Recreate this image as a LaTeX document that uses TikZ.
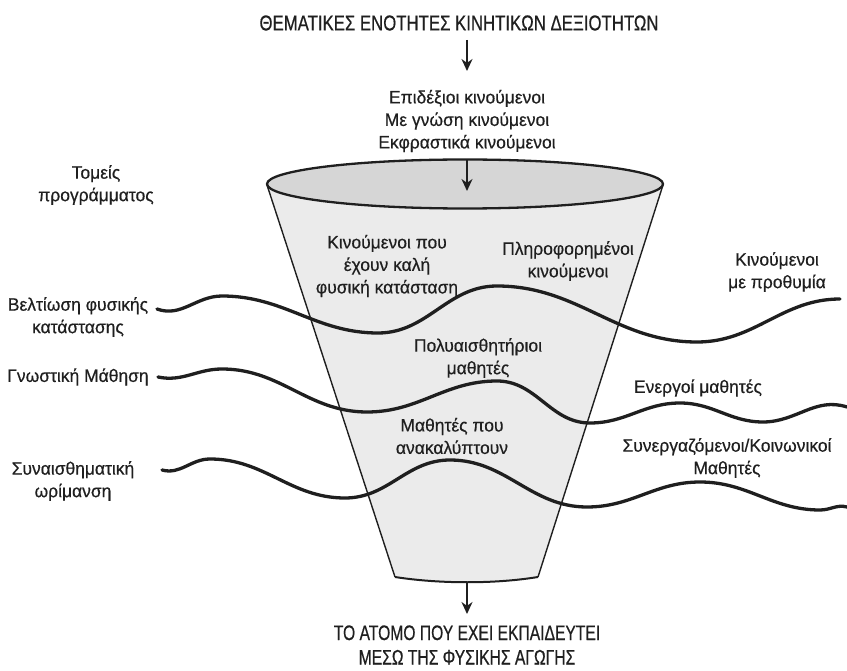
\documentclass[tikz,border=0pt]{standalone}
\usepackage{fontspec}
\setmainfont{Liberation Sans}
\newfontfamily\labfont[FakeStretch=0.97,FakeBold=0.5]{Liberation Sans}
\newfontfamily\capsfont[FakeStretch=0.78,FakeBold=0.6]{Liberation Sans}
\newfontfamily\resultfont[FakeStretch=0.745,FakeBold=0.6]{Liberation Sans}
\usetikzlibrary{arrows.meta}
\definecolor{topgray}{gray}{0.84}
\definecolor{bodygray}{gray}{0.92}
\definecolor{ink}{gray}{0.12}
\begin{document}
\begin{tikzpicture}[x=1pt,y=-1pt,
  lab/.style={font=\labfont\fontsize{18}{22.5}\selectfont, text=ink, align=center, inner sep=0pt},
  capt/.style={font=\capsfont\fontsize{21.5}{25}\selectfont, text=ink, align=center, inner sep=0pt},
  wave/.style={line width=3.3pt, line cap=round, draw=ink},
  arr/.style={line width=1.8pt, draw=ink, -{Stealth[length=12pt,width=11pt]}},
  side/.style={line width=1.4pt, draw=ink},
]
\useasboundingbox (0,0) rectangle (847,671);

% funnel body
\fill[bodygray] (267,185) -- (395,577) .. controls (440,584) and (495,584) .. (538,577) -- (663,185) -- cycle;
\draw[side] (267,185) -- (395,577);
\draw[side] (663,185) -- (538,577);
\draw[line width=2pt, draw=ink] (395,577) .. controls (440,584) and (495,584) .. (538,577);
% funnel mouth
\draw[line width=2.3pt, draw=ink, fill=topgray] (465,184) ellipse [x radius=198, y radius=24.5];

% arrows
\coordinate (a1s) at (467,40);  \coordinate (a1e) at (467,71);
\coordinate (a2s) at (467,160); \coordinate (a2e) at (467,191);
\coordinate (a3s) at (467,582); \coordinate (a3e) at (467,614);
\draw[arr] (a1s) -- (a1e);
\draw[arr] (a2s) -- (a2e);
\draw[arr] (a3s) -- (a3e);

% waves of the programme sectors
\draw[wave] (157,309) to[out=-20,in=180] (222,296) to[out=0,in=180] (378,333)
  to[out=0,in=180] (497,286) to[out=0,in=180] (697,342) to[out=0,in=180] (840,299);
\draw[wave] (158,377) to[out=-12,in=180] (222,369) to[out=0,in=180] (367,412)
  to[out=0,in=180] (497,381) to[out=0,in=180] (590,423) to[out=0,in=180] (680,403)
  to[out=0,in=180] (763,422) to[out=0,in=162] (847,407);
\draw[wave] (162,470) to[out=-15,in=180] (210,459) to[out=0,in=180] (345,498)
  to[out=0,in=180] (450,460) to[out=0,in=180] (587,507) to[out=0,in=180] (700,482)
  to[out=0,in=180] (820,510) to[out=0,in=165] (847,507);

% labels
\node[capt] (title) at (459,23) {ΘΕΜΑΤΙΚΕΣ ΕΝΟΤΗΤΕΣ ΚΙΝΗΤΙΚΩΝ ΔΕΞΙΟΤΗΤΩΝ};
\node[lab] (themes) at (467,121) {Επιδέξιοι κινούμενοι\\Με γνώση κινούμενοι\\Εκφραστικά κινούμενοι};
\node[lab] (sectors) at (96,185) {Τομείς\\προγράμματος};
\node[lab] (fitness) at (387,266) {Κινούμενοι που\\έχουν καλή\\φυσική κατάσταση};
\node[lab] (informed) at (568,261) {Πληροφορημένοι\\κινούμενοι};
\node[lab] (willing) at (777,272) {Κινούμενοι\\με προθυμία};
\node[lab] (physical) at (78,317) {Βελτίωση φυσικής\\κατάστασης};
\node[lab] (cognitive) at (78,377) {Γνωστική Μάθηση};
\node[lab] (multi) at (478,358) {Πολυαισθητήριοι\\μαθητές};
\node[lab] (active) at (698,388) {Ενεργοί μαθητές};
\node[lab] (discover) at (452,436) {Μαθητές που\\ανακαλύπτουν};
\node[lab] (coop) at (727,458) {Συνεργαζόμενοι/Κοινωνικοί\\Μαθητές};
\node[lab] (affective) at (73,481) {Συναισθηματική\\ωρίμανση};
\node[capt, font=\resultfont\fontsize{21}{24.5}\selectfont] (result) at (467,645) {ΤΟ ΑΤΟΜΟ ΠΟΥ ΕΧΕΙ ΕΚΠΑΙΔΕΥΤΕΙ\\ΜΕΣΩ ΤΗΣ ΦΥΣΙΚΗΣ ΑΓΩΓΗΣ};
\end{tikzpicture}
\end{document}
